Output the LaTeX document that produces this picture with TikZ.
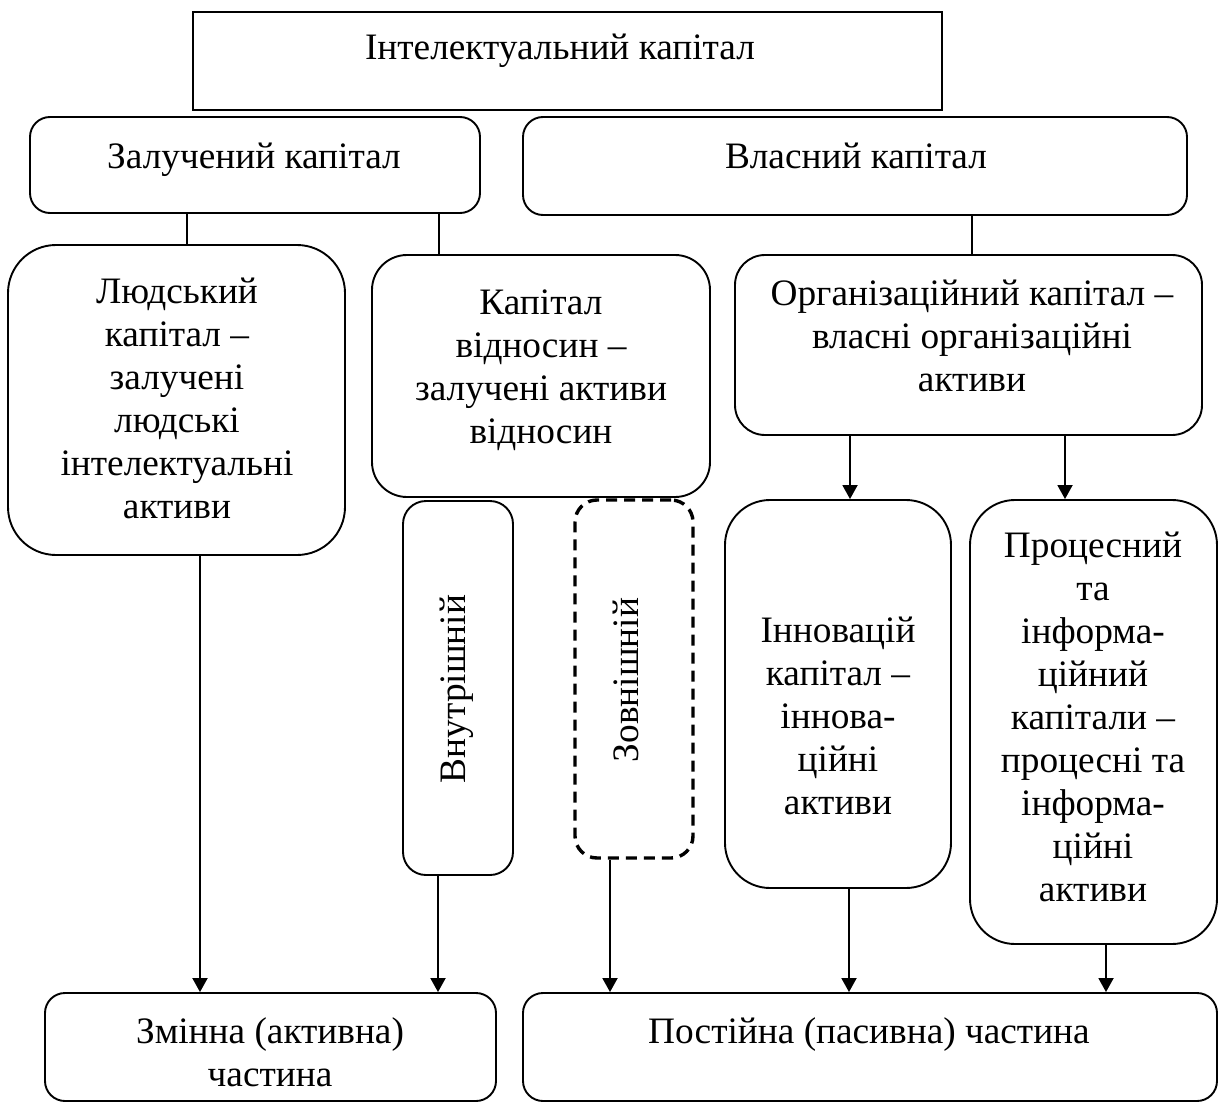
\documentclass[tikz,border=0pt]{standalone}
\usepackage{fontspec}
\setmainfont{Liberation Serif}
\usetikzlibrary{arrows.meta}
\begin{document}
\begin{tikzpicture}[x=1pt,y=-1pt,
  box/.style={draw, line width=1.9pt, inner sep=0pt, rounded corners=#1},
  box/.default=20pt,
  sq/.style={draw, line width=1.9pt, inner sep=0pt},
  dbox/.style={draw, line width=3.4pt, dash pattern=on 11pt off 7pt, inner sep=0pt, rounded corners=22pt},
  txt/.style={anchor=base, align=center, inner sep=0pt, font=\fontsize{37.3}{43}\selectfont},
  conn/.style={line width=1.9pt},
  arr/.style={line width=1.9pt, -{Triangle[length=14pt,width=15pt]}}]
\useasboundingbox (0,0) rectangle (1219,1103);
% boxes
\node[sq, minimum width=749pt, minimum height=98pt] (ic) at (567.5,61) {};
\node[box=20pt, minimum width=450pt, minimum height=96pt] (zal) at (255,165) {};
\node[box=20pt, minimum width=664pt, minimum height=98pt] (vl) at (855,166) {};
\node[box=48pt, minimum width=337pt, minimum height=310pt] (lud) at (176.5,400) {};
\node[box=35pt, minimum width=338pt, minimum height=242pt] (kv) at (541,376) {};
\node[box=30pt, minimum width=467pt, minimum height=180pt] (org) at (968.5,345) {};
\node[box=23pt, minimum width=110pt, minimum height=374pt] (vn) at (458,688) {};
\node[dbox, minimum width=118pt, minimum height=358pt] (zov) at (634,679) {};
\node[box=45pt, minimum width=226pt, minimum height=388pt] (inn) at (838,694) {};
\node[box=45pt, minimum width=247pt, minimum height=444pt] (pro) at (1093.5,722) {};
\node[box=20pt, minimum width=451pt, minimum height=108pt] (zm) at (270.5,1047) {};
\node[box=20pt, minimum width=694pt, minimum height=108pt] (po) at (870,1047) {};
% texts (anchor = baseline of the last line)
\node[txt] (tic) at (560,59) {Інтелектуальний капітал};
\node[txt] (tzal) at (254,168) {Залучений капітал};
\node[txt] (tvl) at (856,168) {Власний капітал};
\node[txt] (tlud) at (177,518) {Людський\\капітал –\\залучені\\людські\\інтелектуальні\\активи};
\node[txt] (tkv) at (541,443) {Капітал\\відносин –\\залучені активи\\відносин};
\node[txt] (torg) at (972,391) {Організаційний капітал –\\власні організаційні\\активи};
\node[txt, rotate=90] (tvn) at (465,689) {Внутрішній};
\node[txt, rotate=90] (tzov) at (638,680) {Зовнішній};
\node[txt] (tinn) at (838,814) {Інновацій\\капітал –\\іннова-\\ційні\\активи};
\node[txt] (tpro) at (1093,901) {Процесний\\та\\інформа-\\ційний\\капітали –\\процесні та\\інформа-\\ційні\\активи};
\node[txt] (tzm) at (270,1086) {Змінна (активна)\\частина};
\node[txt] (tpo) at (869,1043) {Постійна (пасивна) частина};
% connectors
\draw[conn] (187,0 |- zal.south) -- (187,0 |- lud.north);
\draw[conn] (439,0 |- zal.south) -- (439,0 |- kv.north);
\draw[conn] (972,0 |- vl.south) -- (972,0 |- org.north);
\draw[arr] (850,0 |- org.south) -- (850,0 |- inn.north);
\draw[arr] (1065,0 |- org.south) -- (1065,0 |- pro.north);
\draw[arr] (200,0 |- lud.south) -- (200,0 |- zm.north);
\draw[arr] (438,0 |- vn.south) -- (438,0 |- zm.north);
\draw[arr] (610,0 |- zov.south) -- (610,0 |- po.north);
\draw[arr] (849,0 |- inn.south) -- (849,0 |- po.north);
\draw[arr] (1106,0 |- pro.south) -- (1106,0 |- po.north);
\end{tikzpicture}
\end{document}
